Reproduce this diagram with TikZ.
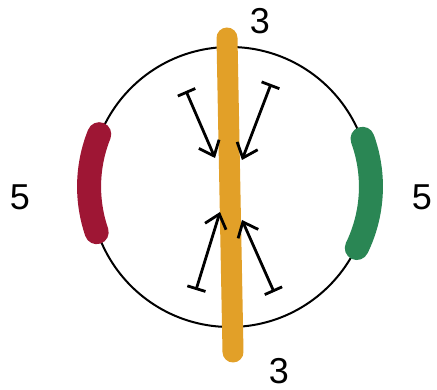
\documentclass[tikz,border=0pt]{standalone}
\usepackage{fontspec}
\setmainfont{Liberation Sans}
\usetikzlibrary{arrows.meta}

\definecolor{barorange}{RGB}{226,160,40}
\definecolor{bandred}{RGB}{158,22,52}
\definecolor{bandgreen}{RGB}{42,134,84}

\tikzset{
	num/.style={font=\fontsize{36}{42}\selectfont},
	push/.style={line width=2.8pt, {Bar[width=19pt,line width=2.8pt]}-{Straight Barb[length=13pt,width=22pt,line width=2.8pt]}},
	band/.style={line width=24pt, line cap=round}
}

\begin{document}
\begin{tikzpicture}[x=1pt, y=1pt]

		\useasboundingbox (0,0) rectangle (437,390);

		\node[circle, draw, line width=2pt, minimum size=280pt, inner sep=0pt] (ring) at (230,203) {};

		\draw[band, bandred] (ring.158) arc[start angle=158, end angle=199, radius=140pt];
		\draw[band, bandgreen] (ring.20) arc[start angle=20, end angle=-26, radius=140pt];

		\coordinate (top) at (227,352);
		\coordinate (bottom) at (233,38);
		\draw[line width=21pt, line cap=round, barorange] (top) -- (bottom);

		\node[num] (3a) at (260,369) {3};
		\node[num] (3b) at (279,19) {3};
		\node[num] (5a) at (20,193) {5};
		\node[num] (5b) at (422,193) {5};

		\coordinate (t1) at (186,299);
		\coordinate (h1) at (215,232);
		\coordinate (t2) at (271,306);
		\coordinate (h2) at (242,230);
		\coordinate (t3) at (196,100);
		\coordinate (h3) at (220,178);
		\coordinate (t4) at (274,98);
		\coordinate (h4) at (242,170);

		\draw[push] (t1) -- (h1);
		\draw[push] (t2) -- (h2);
		\draw[push] (t3) -- (h3);
		\draw[push] (t4) -- (h4);
\end{tikzpicture}
\end{document}
